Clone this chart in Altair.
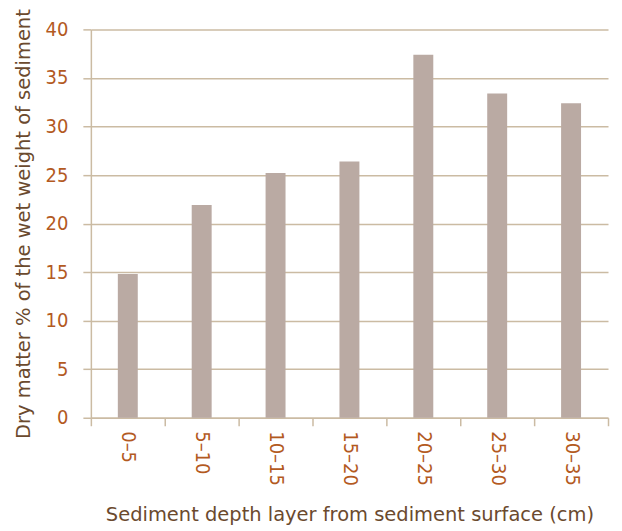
import altair as alt
import pandas as pd

layers = ["0–5", "5–10", "10–15", "15–20", "20–25", "25–30", "30–35"]
values = [14.8, 21.9, 25.2, 26.4, 37.4, 33.4, 32.4]

df = pd.DataFrame({"layer": layers, "value": values})

label_color = "#b35a1f"
title_color = "#6b4a2e"
grid_color = "#cbbba3"
font = "DejaVu Sans Condensed"
title_font = "DejaVu Sans"

chart = alt.Chart(df).mark_bar(
    color="#baaaa3", width=alt.RelativeBandSize(0.27)
).encode(
    x=alt.X(
        "layer:N",
        sort=layers,
        title="Sediment depth layer from sediment surface (cm)",
        scale=alt.Scale(paddingInner=0, paddingOuter=0),
        axis=alt.Axis(
            labelAngle=90,
            labelAlign="left",
            labelBaseline="middle",
            labelPadding=5,
            tickBand="extent",
            tickSize=8,
            titlePadding=20,
        ),
    ),
    y=alt.Y(
        "value:Q",
        title="Dry matter % of the wet weight of sediment",
        scale=alt.Scale(domain=[0, 40]),
        axis=alt.Axis(
            values=[0, 5, 10, 15, 20, 25, 30, 35, 40],
            grid=True,
            tickSize=8,
            labelPadding=15,
            titlePadding=12,
        ),
    ),
).properties(
    width=518, height=389, background="white",
    padding={"left": 5, "top": 0, "right": 5, "bottom": 0},
).configure_axis(
    labelFont=font,
    titleFont=title_font,
    labelFontSize=20,
    titleFontSize=19.5,
    labelColor=label_color,
    titleColor=title_color,
    titleFontWeight="normal",
    domainColor=grid_color,
    tickColor=grid_color,
    gridColor=grid_color,
    gridOpacity=1,
    domainWidth=1.5,
    tickWidth=1.5,
    gridWidth=1.5,
).configure_view(stroke=None)

chart.save("out.html", embed_options={"renderer": "svg", "actions": False})
